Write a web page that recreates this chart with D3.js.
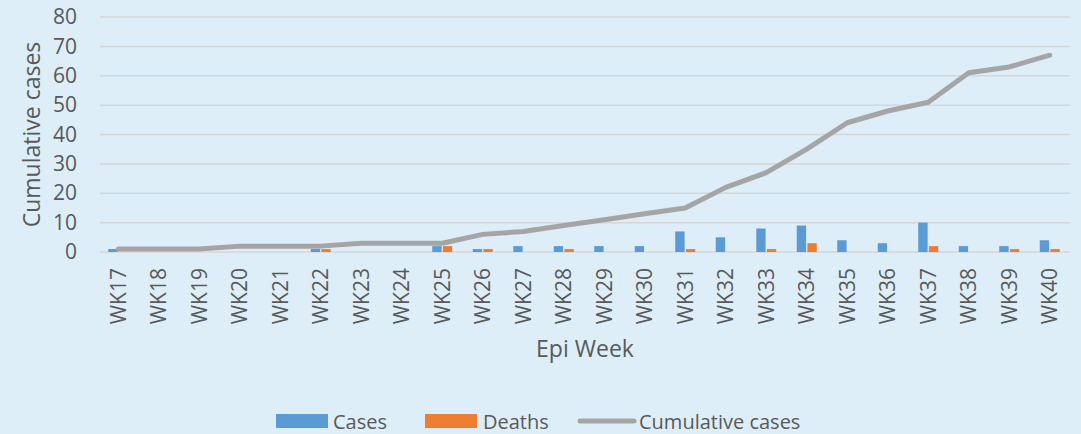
<!DOCTYPE html>
<html>
<head>
<meta charset="utf-8">
<script src="https://cdn.jsdelivr.net/npm/d3@7"></script>
<style>
  body { margin: 0; background: #ddeef8; }
  svg { display: block; }
  text { font-family: "Open Sans", sans-serif; fill: #595959; }
</style>
</head>
<body>
<svg id="chart"></svg>
<script>
// Data
const weeks = ["WK17","WK18","WK19","WK20","WK21","WK22","WK23","WK24","WK25","WK26","WK27","WK28",
               "WK29","WK30","WK31","WK32","WK33","WK34","WK35","WK36","WK37","WK38","WK39","WK40"];
const cases = [1,0,0,0,0,1,0,0,2,1,2,2,2,2,7,5,8,9,4,3,10,2,2,4];
const deaths = [0,0,0,0,0,1,0,0,2,1,0,1,0,0,1,0,1,3,0,0,2,0,1,1];
const cumulative = [1,1,1,2,2,2,3,3,3,6,7,9,11,13,15,22,27,35,44,48,51,61,63,67];
const yTicks = [0,10,20,30,40,50,60,70,80];

const colors = { cases: "#5b9bd5", deaths: "#ed7d31", cumulative: "#a5a5a5" };

const W = 1081, H = 434;
const plot = { left: 98, right: 1070, top: 17, bottom: 252 };

const svg = d3.select("#chart").attr("width", W).attr("height", H);
svg.append("rect").attr("width", W).attr("height", H).attr("fill", "#ddeef8");

const x = d3.scaleBand().domain(weeks).range([plot.left, plot.right]).padding(0);
const y = d3.scaleLinear().domain([0, 80]).range([plot.bottom, plot.top]);
const x1 = d3.scaleBand().domain(["cases", "deaths"]).range([0, 20]).paddingInner(0.12);
const groupOffset = (x.bandwidth() - 20) / 2;

// Gridlines
svg.append("g")
    .selectAll("line")
    .data(yTicks)
    .join("line")
    .attr("x1", 100).attr("x2", plot.right)
    .attr("y1", d => y(d)).attr("y2", d => y(d))
    .attr("stroke", "#d6d6d6")
    .attr("stroke-width", 1.5);

// Y axis labels
const yAxis = svg.append("g")
    .attr("transform", `translate(77,0)`)
    .call(d3.axisLeft(y).tickValues(yTicks).tickSize(0).tickPadding(0));
yAxis.select(".domain").remove();
yAxis.selectAll("text")
    .style("font-family", "Open Sans, sans-serif")
    .style("font-size", "21px")
    .attr("fill", "#595959");

// X axis labels (rotated)
const xAxis = svg.append("g")
    .attr("transform", `translate(0,${plot.bottom})`)
    .call(d3.axisBottom(x).tickSize(0).tickPadding(0));
xAxis.select(".domain").remove();
xAxis.selectAll("text")
    .style("font-family", "Open Sans, sans-serif")
    .style("font-size", "21px")
    .attr("fill", "#595959")
    .attr("text-anchor", "end")
    .attr("dy", "0.35em")
    .attr("transform", "translate(0,16) rotate(-90)");

// Bars
const barData = [];
weeks.forEach((wk, i) => {
    barData.push({ week: wk, key: "cases", value: cases[i] });
    barData.push({ week: wk, key: "deaths", value: deaths[i] });
});

svg.append("g")
    .selectAll("rect")
    .data(barData.filter(d => d.value > 0))
    .join("rect")
    .attr("x", d => x(d.week) + groupOffset + x1(d.key))
    .attr("y", d => y(d.value))
    .attr("width", x1.bandwidth())
    .attr("height", d => y(0) - y(d.value))
    .attr("fill", d => colors[d.key]);

// Cumulative line
const line = d3.line()
    .x((d, i) => x(weeks[i]) + x.bandwidth() / 2)
    .y(d => y(d));

svg.append("path")
    .datum(cumulative)
    .attr("d", line)
    .attr("fill", "none")
    .attr("stroke", colors.cumulative)
    .attr("stroke-width", 5)
    .attr("stroke-linejoin", "round")
    .attr("stroke-linecap", "round");

// Axis titles
svg.append("text")
    .attr("transform", `translate(40,${(plot.top + plot.bottom) / 2}) rotate(-90)`)
    .attr("text-anchor", "middle")
    .style("font-size", "23px")
    .text("Cumulative cases");

svg.append("text")
    .attr("x", 585)
    .attr("y", 357)
    .attr("text-anchor", "middle")
    .style("font-size", "23px")
    .text("Epi Week");

// Legend
const legend = svg.append("g");
legend.append("rect").attr("x", 276).attr("y", 414).attr("width", 52).attr("height", 14).attr("fill", colors.cases);
legend.append("text").attr("x", 333).attr("y", 429).style("font-size", "20px").text("Cases");
legend.append("rect").attr("x", 425).attr("y", 414).attr("width", 52).attr("height", 14).attr("fill", colors.deaths);
legend.append("text").attr("x", 483).attr("y", 429).style("font-size", "20px").text("Deaths");
legend.append("line").attr("x1", 580).attr("x2", 634).attr("y1", 421).attr("y2", 421)
    .attr("stroke", colors.cumulative).attr("stroke-width", 5).attr("stroke-linecap", "round");
legend.append("text").attr("x", 639).attr("y", 429).style("font-size", "20px").text("Cumulative cases");
</script>
</body>
</html>
